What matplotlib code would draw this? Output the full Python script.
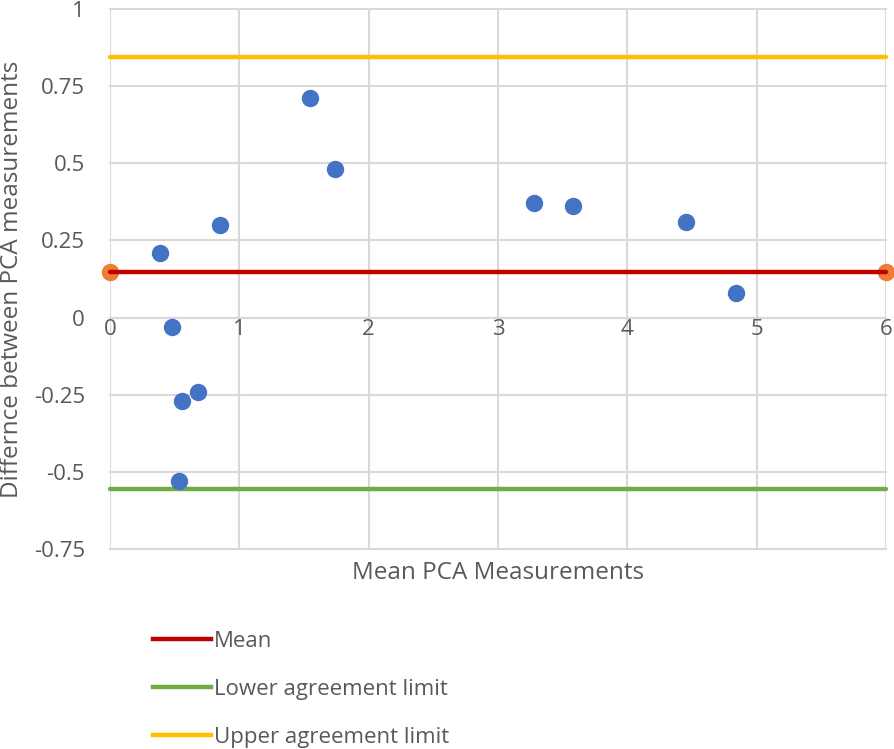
import matplotlib
matplotlib.use("Agg")
import matplotlib.pyplot as plt
from matplotlib.lines import Line2D

# Data
mean_pca = [0.39, 0.48, 0.56, 0.68, 0.53, 0.85, 1.55, 1.74, 3.28, 3.58, 4.45, 4.84]
diff_pca = [0.21, -0.03, -0.27, -0.24, -0.53, 0.30, 0.71, 0.48, 0.37, 0.36, 0.31, 0.08]
line_x = [0, 6]
mean_val = 0.147
lower_val = -0.555
upper_val = 0.845
x_ticks = [0, 1, 2, 3, 4, 5, 6]
y_ticks = [-0.75, -0.5, -0.25, 0, 0.25, 0.5, 0.75, 1]
y_tick_labels = ["-0.75", "-0.5", "-0.25", "0", "0.25", "0.5", "0.75", "1"]

plt.rcParams['font.family'] = ['Open Sans', 'DejaVu Sans']
txt = '#595959'
grid_c = '#D9D9D9'

fig = plt.figure(figsize=(8.95, 7.49), dpi=100)
ax = fig.add_axes([110/895, 1-549/749, 776/895, 540/749])
ax.set_xlim(0, 6)
ax.set_ylim(-0.75, 1)
ax.set_xticks(x_ticks)
ax.set_yticks(y_ticks)
ax.set_yticklabels(y_tick_labels)
ax.grid(True, color=grid_c, linewidth=1.5, zorder=0)
ax.set_axisbelow(True)
for gl in ax.get_xgridlines() + ax.get_ygridlines():
    gl.set_clip_on(False)
for s in ['top', 'right', 'left']:
    ax.spines[s].set_visible(False)
ax.spines['bottom'].set_position(('data', 0))
ax.spines['bottom'].set_color(grid_c)
ax.spines['bottom'].set_linewidth(1.5)
ax.tick_params(axis='both', length=0, labelsize=16, colors=txt)
ax.tick_params(axis='y', pad=18)
ax.tick_params(axis='x', pad=1)

ax.plot(line_x, [upper_val, upper_val], color='#FFC000', linewidth=3.2, solid_capstyle='round', clip_on=False, zorder=3)
ax.plot(line_x, [lower_val, lower_val], color='#70AD47', linewidth=3.2, solid_capstyle='round', clip_on=False, zorder=3)
ax.plot(line_x, [mean_val, mean_val], color='#ED7D31', linestyle='none', marker='o', markersize=11.5, clip_on=False, zorder=3)
ax.plot(line_x, [mean_val, mean_val], color='#C00000', linewidth=3.2, solid_capstyle='round', clip_on=False, zorder=4)
ax.plot(mean_pca, diff_pca, linestyle='none', marker='o', markersize=11.5, color='#4472C4', clip_on=False, zorder=5)

fig.text(498/895, 1-573/749, 'Mean PCA Measurements', ha='center', va='center', fontsize=17.5, color=txt)
fig.text(12/895, 1-279/749, 'Differnce between PCA measurements', ha='center', va='center',
         rotation=90, fontsize=17.5, color=txt)

handles = [Line2D([], [], color='#C00000', linewidth=3.2),
           Line2D([], [], color='#70AD47', linewidth=3.2),
           Line2D([], [], color='#FFC000', linewidth=3.2)]
labels = ['Mean', 'Lower agreement limit', 'Upper agreement limit']
leg = fig.legend(handles, labels, loc='upper left', bbox_to_anchor=(153/895, 1-631/749),
                 frameon=False, fontsize=16, handlelength=2.6, handletextpad=0.15,
                 labelspacing=1.22, borderpad=0, borderaxespad=0)
for t in leg.get_texts():
    t.set_color(txt)

fig.savefig('out.png', dpi=100)
